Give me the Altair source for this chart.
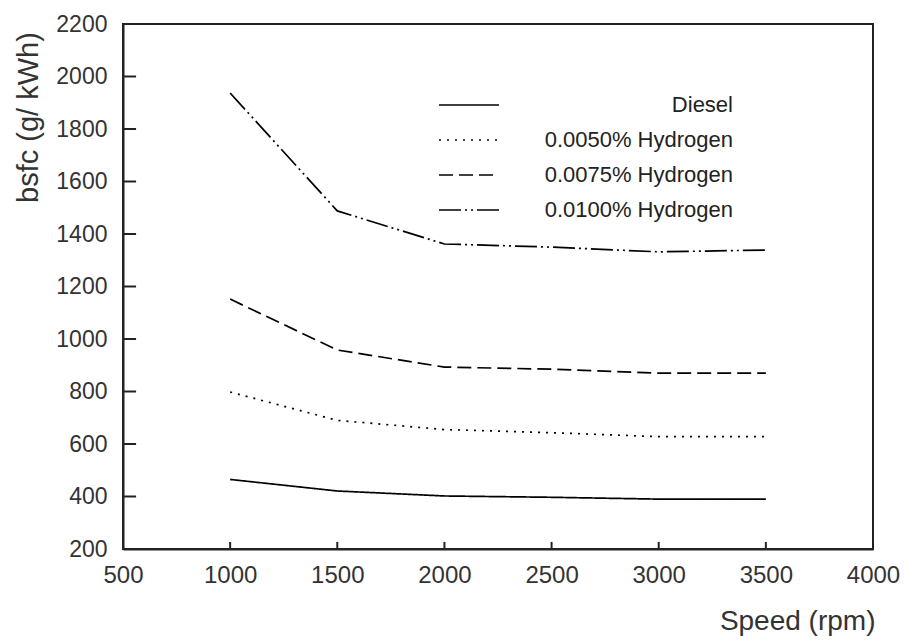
import altair as alt
import pandas as pd

speeds = [1000, 1500, 2000, 2500, 3000, 3500]
series_names = ["Diesel", "0.0050% Hydrogen", "0.0075% Hydrogen", "0.0100% Hydrogen"]
diesel = [465, 421, 402, 397, 390, 390]
h_0050 = [798, 690, 655, 643, 628, 628]
h_0075 = [1152, 958, 893, 885, 870, 870]
h_0100 = [1937, 1488, 1362, 1350, 1332, 1339]

x_ticks = [500, 1000, 1500, 2000, 2500, 3000, 3500, 4000]
y_ticks = [200, 400, 600, 800, 1000, 1200, 1400, 1600, 1800, 2000, 2200]
x_inner = [1000, 1500, 2000, 2500, 3000, 3500]
y_inner = [400, 600, 800, 1000, 1200, 1400, 1600, 1800, 2000]

rows = []
for name, vals in zip(series_names, [diesel, h_0050, h_0075, h_0100]):
    for s, v in zip(speeds, vals):
        rows.append({"speed": s, "bsfc": v, "fuel": name})
df = pd.DataFrame(rows)

FONT = "Liberation Sans"
INK = "#222222"

xscale = alt.Scale(domain=[500, 4000], nice=False, zero=False)
yscale = alt.Scale(domain=[200, 2200], nice=False, zero=False)

# inner tick marks (drawn from the axis into the plot, lengths in data units)
xt = alt.Chart(pd.DataFrame({"speed": x_inner, "lo": [200] * len(x_inner),
                             "hi": [227] * len(x_inner)})).mark_rule(
    color=INK, strokeWidth=2).encode(
    x=alt.X("speed:Q", scale=xscale),
    y=alt.Y("lo:Q", scale=yscale),
    y2="hi:Q",
)
yt = alt.Chart(pd.DataFrame({"bsfc": y_inner, "lo": [500] * len(y_inner),
                             "hi": [561] * len(y_inner)})).mark_rule(
    color=INK, strokeWidth=2).encode(
    y=alt.Y("bsfc:Q", scale=yscale),
    x=alt.X("lo:Q", scale=xscale),
    x2="hi:Q",
)

lines = alt.Chart(df).mark_line(color="black", strokeWidth=1.7).encode(
    x=alt.X("speed:Q", scale=xscale,
            axis=alt.Axis(values=x_ticks, title="Speed (rpm)", tickSize=0, labelPadding=14,
                          labelFlush=False, labelOverlap=False, grid=False,
                          domainColor=INK, domainWidth=2, labelFontSize=24,
                          labelColor="#333333", labelFont=FONT, format="d",
                          titleFont=FONT, titleFontSize=28, titleFontWeight="normal",
                          titleColor="#333333", titleAnchor="end", titleAlign="right",
                          titleBaseline="alphabetic", titleX=752, titleY=80)),
    y=alt.Y("bsfc:Q", scale=yscale,
            axis=alt.Axis(values=y_ticks, title="bsfc (g/ kWh)", tickSize=0, labelPadding=16,
                          labelFlush=False, labelOverlap=False, grid=False,
                          domainColor=INK, domainWidth=2, labelFontSize=23,
                          labelColor="#333333", labelFont=FONT, format="d",
                          titleFont=FONT, titleFontSize=29, titleFontWeight="normal",
                          titleColor="#333333", titleAngle=-90, titleAlign="center",
                          titleBaseline="middle", titleX=-95, titleY=93)),
    strokeDash=alt.StrokeDash(
        "fuel:N",
        scale=alt.Scale(domain=series_names,
                        range=[[1, 0], [2, 6], [14, 6], [22, 4, 2, 4, 2, 4]]),
        legend=alt.Legend(title=None, orient="none", legendX=335, legendY=70,
                          symbolType="M-4,0H4", symbolSize=225, symbolStrokeWidth=1.6,
                          symbolStrokeColor="black", symbolFillColor="transparent",
                          labelFont=FONT, labelFontSize=22,
                          labelColor="#222222", labelAlign="right", labelOffset=253,
                          labelLimit=400, rowPadding=13)),
    detail="fuel:N",
    order="speed:Q",
)

chart = alt.layer(xt, yt, lines).properties(
    width=750, height=525,
    autosize=alt.AutoSizeParams(type="none"),
    padding={"left": 123, "top": 24, "right": 31, "bottom": 91},
    background="white",
).configure_view(stroke=INK, strokeWidth=2)

chart.save("out.html", embed_options={"renderer": "svg", "actions": False})
